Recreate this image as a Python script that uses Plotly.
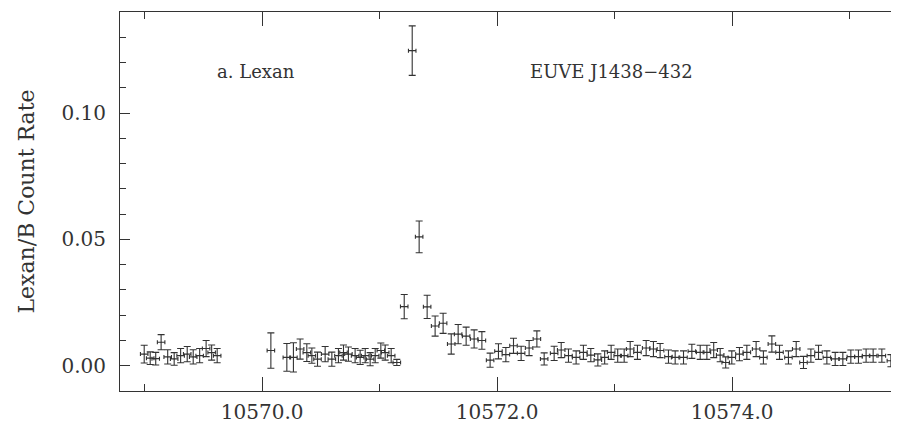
"""EUVE J1438-432 Lexan/B light curve with error bars (Plotly)."""

import plotly.graph_objects as go

# Time (days) of each bin
TIME = [
    10568.996, 10569.047, 10569.094, 10569.140, 10569.196, 10569.251,
    10569.306, 10569.362, 10569.413, 10569.468, 10569.523, 10569.570,
    10569.617,
    10570.074, 10570.210, 10570.266, 10570.323, 10570.380, 10570.423,
    10570.471, 10570.536, 10570.593, 10570.649, 10570.692, 10570.734,
    10570.791, 10570.834, 10570.877, 10570.919, 10570.962, 10571.010,
    10571.047, 10571.098, 10571.146,
    10571.209, 10571.277, 10571.336, 10571.404, 10571.472, 10571.540,
    10571.609, 10571.668, 10571.736, 10571.804, 10571.870, 10571.940,
    10572.011, 10572.074, 10572.139, 10572.204, 10572.272, 10572.338,
    10572.400,
    10572.485, 10572.545, 10572.607, 10572.672, 10572.734, 10572.797,
    10572.857, 10572.915, 10572.970, 10573.026, 10573.081, 10573.132,
    10573.194, 10573.268, 10573.330, 10573.387, 10573.458, 10573.515,
    10573.586, 10573.657, 10573.728, 10573.785, 10573.843, 10573.898,
    10573.945, 10573.997, 10574.062, 10574.125, 10574.204, 10574.266,
    10574.338, 10574.403, 10574.479, 10574.545, 10574.607, 10574.670,
    10574.735, 10574.806, 10574.877, 10574.942, 10575.010, 10575.075,
    10575.140, 10575.200, 10575.274, 10575.351,
]

# Lexan/B count rate
RATE = [
    0.0046, 0.0030, 0.0028, 0.0093, 0.0035, 0.0027,
    0.0040, 0.0046, 0.0035, 0.0040, 0.0068, 0.0052,
    0.0040,
    0.0060, 0.0033, 0.0033, 0.0066, 0.0052, 0.0040,
    0.0026, 0.0046, 0.0026, 0.0040, 0.0052, 0.0046,
    0.0040, 0.0033, 0.0040, 0.0026, 0.0040, 0.0060,
    0.0052, 0.0040, 0.0013,
    0.0234, 0.1247, 0.0510, 0.0233, 0.0157, 0.0168,
    0.0086, 0.0125, 0.0117, 0.0106, 0.0100, 0.0022,
    0.0057, 0.0044, 0.0079, 0.0049, 0.0070, 0.0106,
    0.0027,
    0.0049, 0.0062, 0.0040, 0.0033, 0.0053, 0.0042,
    0.0023, 0.0033, 0.0053, 0.0040, 0.0040, 0.0066,
    0.0053, 0.0070, 0.0066, 0.0060, 0.0036, 0.0033,
    0.0033, 0.0057, 0.0053, 0.0053, 0.0062, 0.0042,
    0.0013, 0.0033, 0.0046, 0.0053, 0.0066, 0.0033,
    0.0086, 0.0053, 0.0033, 0.0066, 0.0013, 0.0040,
    0.0053, 0.0033, 0.0027, 0.0027, 0.0036, 0.0036,
    0.0040, 0.0040, 0.0040, 0.0020,
]

# 1-sigma errors on the rate
RATE_ERR = [
    0.0035, 0.0025, 0.0025, 0.0030, 0.0028, 0.0025,
    0.0028, 0.0030, 0.0028, 0.0028, 0.0032, 0.0030,
    0.0028,
    0.0070, 0.0055, 0.0058, 0.0040, 0.0035, 0.0030,
    0.0028, 0.0030, 0.0028, 0.0028, 0.0030, 0.0028,
    0.0028, 0.0028, 0.0028, 0.0026, 0.0028, 0.0030,
    0.0030, 0.0028, 0.0012,
    0.0048, 0.0098, 0.0063, 0.0046, 0.0040, 0.0040,
    0.0040, 0.0038, 0.0036, 0.0036, 0.0035, 0.0028,
    0.0030, 0.0028, 0.0030, 0.0028, 0.0030, 0.0032,
    0.0024,
    0.0028, 0.0030, 0.0026, 0.0026, 0.0028, 0.0026,
    0.0024, 0.0026, 0.0028, 0.0026, 0.0026, 0.0030,
    0.0028, 0.0030, 0.0030, 0.0028, 0.0026, 0.0026,
    0.0026, 0.0028, 0.0028, 0.0028, 0.0030, 0.0026,
    0.0022, 0.0026, 0.0026, 0.0028, 0.0030, 0.0026,
    0.0032, 0.0028, 0.0026, 0.0030, 0.0024, 0.0026,
    0.0028, 0.0026, 0.0026, 0.0026, 0.0026, 0.0026,
    0.0026, 0.0026, 0.0026, 0.0024,
]

BIN_HALF_WIDTH = 0.032

INK = "#333333"
FONT = "DejaVu Serif"

# the page body keeps its default 8px margin, so the figure is shrunk to fit
PAGE_OFFSET = 8


def plot_light_curve() -> go.Figure:
    fig = go.Figure()
    fig.add_trace(go.Scatter(
        x=TIME,
        y=RATE,
        mode="markers",
        marker=dict(size=1, color=INK),
        error_y=dict(type="data", array=RATE_ERR, color=INK, thickness=1.1, width=3.5),
        error_x=dict(type="constant", value=BIN_HALF_WIDTH, color=INK, thickness=1.1, width=2),
        hovertemplate="%{x:.3f}: %{y:.4f}<extra></extra>",
        showlegend=False,
    ))

    fig.add_annotation(
        x=10569.60, y=0.1163, text="a. Lexan", showarrow=False,
        xanchor="left", yanchor="middle", font=dict(family=FONT, size=18, color=INK),
    )
    fig.add_annotation(
        x=10572.26, y=0.1163, text="EUVE J1438−432", showarrow=False,
        xanchor="left", yanchor="middle", font=dict(family=FONT, size=18, color=INK),
    )

    fig.update_layout(
        width=899 - PAGE_OFFSET, height=427 - PAGE_OFFSET,
        margin=dict(l=120 - PAGE_OFFSET, r=0, t=12 - PAGE_OFFSET, b=36, autoexpand=False),
        paper_bgcolor="white", plot_bgcolor="white",
        font=dict(family=FONT, size=20, color=INK),
        xaxis=dict(
            range=[10568.79, 10575.42],
            tick0=10570, dtick=2, tickformat=".1f",
            ticks="inside", ticklen=14, tickwidth=1, tickcolor=INK,
            minor=dict(dtick=1, tick0=10570, ticks="inside", ticklen=7, tickcolor=INK),
            showline=True, linecolor=INK, linewidth=1, mirror="ticks",
            showgrid=False, zeroline=False,
            ticklabelstandoff=3,
        ),
        yaxis=dict(
            range=[-0.01, 0.14],
            tick0=0, dtick=0.05, tickformat=".2f",
            ticks="inside", ticklen=10, tickwidth=1, tickcolor=INK,
            minor=dict(dtick=0.01, tick0=0, ticks="inside", ticklen=6, tickcolor=INK),
            showline=True, linecolor=INK, linewidth=1, mirror=False,
            showgrid=False, zeroline=False,
            ticklabelstandoff=9,
            title=dict(text="Lexan/B Count Rate", standoff=20,
                       font=dict(family=FONT, size=22, color=INK)),
        ),
    )
    return fig


fig = plot_light_curve()
fig.write_html("out.html")
